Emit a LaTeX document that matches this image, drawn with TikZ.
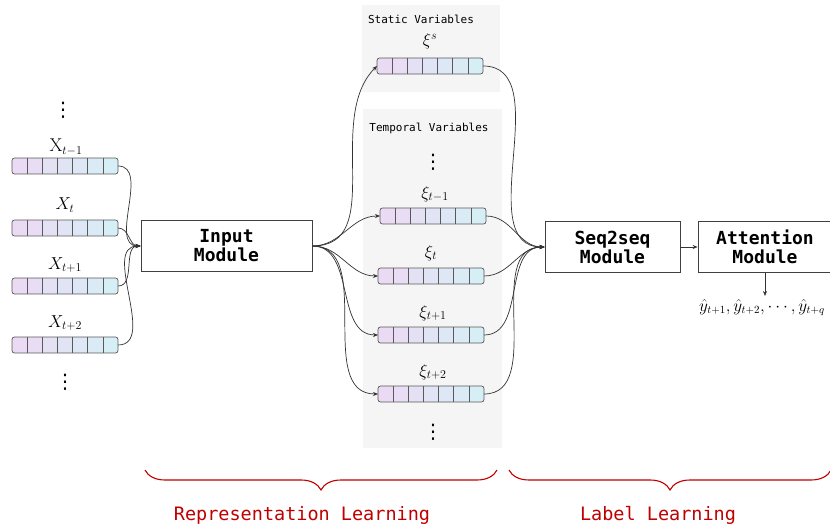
\documentclass[tikz,border=0pt]{standalone}
\usepackage{fontspec}
\setmonofont{DejaVu Sans Mono}
\newfontfamily\dvsans{DejaVu Sans}
\usetikzlibrary{arrows.meta,calc,decorations.pathreplacing}
\definecolor{cA}{HTML}{EBDAF3}
\definecolor{cB}{HTML}{D6EEF6}
\definecolor{panel}{HTML}{F5F5F5}
\definecolor{redl}{HTML}{C00000}
\tikzset{
 barbox/.style={draw=black!65, line width=0.7pt, rounded corners=2.5pt, minimum width=106pt, minimum height=16pt, inner sep=0pt, outer sep=0pt,
  path picture={
   \foreach \i in {0,...,6}{
    \pgfmathsetmacro\p{100-\i*100/6}
    \fill[cA!\p!cB, sharp corners] ($(path picture bounding box.south west)!\i/7!(path picture bounding box.south east)$) rectangle ($(path picture bounding box.north west)!{(\i+1)/7}!(path picture bounding box.north east)$);
   }
   \foreach \i in {1,...,6}{
    \draw[black!65, line width=0.7pt, sharp corners] ($(path picture bounding box.south west)!\i/7!(path picture bounding box.south east)$) -- ($(path picture bounding box.north west)!\i/7!(path picture bounding box.north east)$);
   }
  }},
 modbox/.style={draw=black!75, line width=0.8pt, fill=white, minimum height=51pt, align=center, inner sep=0pt, font=\ttfamily\bfseries\fontsize{18}{19}\selectfont},
 lbl/.style={font=\fontsize{18.5}{20}\selectfont, inner sep=0pt},
 dts/.style={font=\dvsans\fontsize{20}{21}\selectfont, inner sep=0pt},
 ptitle/.style={font=\ttfamily\fontsize{11}{12}\selectfont, inner sep=0pt},
 conn/.style={draw=black!80, line width=0.7pt, -{Stealth[length=5pt,width=4pt]}},
 brc/.style={draw=redl, line width=1.1pt, decorate, decoration={brace, amplitude=20pt}},
 redtxt/.style={text=redl, font=\ttfamily\fontsize{18.5}{20}\selectfont, inner sep=0pt},
}
\begin{document}
\begin{tikzpicture}[x=1pt,y=-1pt]
\clip (0,0) rectangle (830,529);
\fill[white] (0,0) rectangle (830,529);
% panels
\fill[panel] (362,5) rectangle (500,92);
\fill[panel] (363,109) rectangle (502,448);
\node[ptitle] (stt) at (421,19) {Static Variables};
\node[ptitle] (tmt) at (429,128) {Temporal Variables};
% left inputs
\node[dts] (ld1) at (63,110) {⋮};
\node[lbl] (lx1) at (66,147) {$\mathrm{X}_{t-1}$};
\node[barbox] (x1) at (65,166) {};
\node[lbl] (lx2) at (65,205) {$X_{t}$};
\node[barbox] (x2) at (65,228) {};
\node[lbl] (lx3) at (65,265) {$X_{t+1}$};
\node[barbox] (x3) at (65,286) {};
\node[lbl] (lx4) at (65,323) {$X_{t+2}$};
\node[barbox] (x4) at (65,345) {};
\node[dts] (ld2) at (65,382) {⋮};
% modules
\node[modbox, minimum width=171pt] (inp) at (226.5,246) {Input\\Module};
\node[modbox, minimum width=135pt] (s2s) at (612.5,247) {Seq2seq\\Module};
\node[modbox, minimum width=134pt] (att) at (765,247) {Attention\\Module};
% static
\node[lbl] (ls) at (430,41) {$\xi^{s}$};
\node[barbox] (s) at (430,66) {};
% temporal
\node[dts] (td1) at (433,162) {⋮};
\node[lbl] (lt1) at (435,194) {$\xi_{t-1}$};
\node[barbox] (t1) at (433,216) {};
\node[lbl] (lt2) at (431,253) {$\xi_{t}$};
\node[barbox] (t2) at (431,276) {};
\node[lbl] (lt3) at (433,313) {$\xi_{t+1}$};
\node[barbox] (t3) at (431,335) {};
\node[lbl] (lt4) at (433,372) {$\xi_{t+2}$};
\node[barbox] (t4) at (431,394) {};
\node[dts] (td2) at (433,432) {⋮};
% connectors left
\foreach \b in {x1,x2,x3,x4}{
 \draw[conn] (\b.east) to[out=0,in=180] (inp.west);
}
% input -> xi
\draw[conn] (inp.east) to[out=0,in=-135] (s.west);
\foreach \b in {t1,t2,t3,t4}{
 \draw[conn] (inp.east) to[out=0,in=180] (\b.west);
}
% xi -> seq2seq
\draw[conn] (s.east) to[out=0,in=180] (s2s.west);
\foreach \b in {t1,t2,t3,t4}{
 \draw[conn] (\b.east) to[out=0,in=180] (s2s.west);
}
\draw[conn] (s2s.east) -- (att.west);
\coordinate (yo) at (765,296);
\draw[conn] (att.south) -- (yo);
\node[lbl, anchor=north, font=\fontsize{16}{18}\selectfont] (yl) at (762,299) {$\hat{y}_{t+1},\hat{y}_{t+2},\cdots,\hat{y}_{t+q}$};
% braces
\draw[brc] (497,470) -- (145,470);
\draw[brc] (831,470) -- (509,470);
\node[redtxt] (rl) at (302,515) {Representation Learning};
\node[redtxt] (ll) at (658,515) {Label Learning};
\end{tikzpicture}
\end{document}
